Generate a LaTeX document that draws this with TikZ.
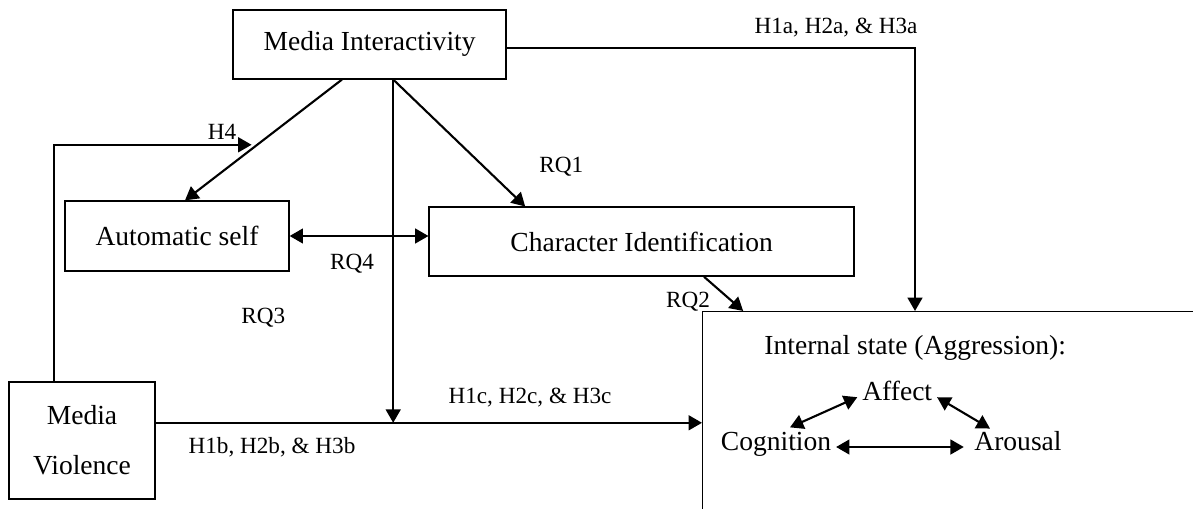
\documentclass[tikz,border=0pt]{standalone}
\usepackage{fontspec}
\setmainfont{Liberation Serif}
\usetikzlibrary{arrows.meta}

\tikzset{
	box/.style={draw, line width=0.9pt, inner sep=0pt, font=\fontsize{19.6}{23.5}\selectfont},
	txt/.style={font=\fontsize{19.6}{23.5}\selectfont, text height=0.7em, text depth=0.25em},
	lbl/.style={font=\fontsize{16.5}{19.8}\selectfont, inner sep=0pt},
	arr/.style={line width=1.5pt, -{Triangle[length=9.5pt,width=10.5pt]}},
	dbl/.style={line width=1.5pt, {Triangle[length=9.5pt,width=10.5pt]}-{Triangle[length=9.5pt,width=10.5pt]}},
}

\begin{document}
\begin{tikzpicture}
	\useasboundingbox (0,0) rectangle (29.825,-12.7);
	\clip (0,0) rectangle (29.825,-12.7);

	\node[box, minimum width=6.825cm, minimum height=1.725cm] (interactivity) at (9.24,-1.11) {Media Interactivity};
	\node[box, minimum width=5.6cm, minimum height=1.75cm] (autoself) at (4.425,-5.9) {Automatic self};
	\node[box, minimum width=10.625cm, minimum height=1.725cm] (identification) at (16.04,-6.04) {Character Identification};
	\node[box, minimum width=3.65cm, minimum height=2.925cm, align=center, font=\fontsize{19.6}{35.6}\selectfont] (violence) at (2.05,-11.01) {Media\\Violence};

	% the state box runs off the page on the right and at the bottom
	\node[box, anchor=north west, minimum width=14cm, minimum height=7cm] (state) at (17.55,-7.775) {};
	\node[txt] (statetitle) at (22.88,-8.78) {Internal state (Aggression):};
	\node[txt] (affect) at (22.43,-9.93) {Affect};
	\node[txt] (cognition) at (19.4,-11.175) {Cognition};
	\node[txt] (arousal) at (25.45,-11.175) {Arousal};

	\coordinate (split) at ([xshift=0.59cm]interactivity.south);
	\coordinate (vout) at ([yshift=0.44cm]violence.east);

	\draw[arr] ([xshift=-0.69cm]interactivity.south) -- coordinate[pos=0.54] (h4end) ([xshift=0.2cm]autoself.north);
	\draw[arr, shorten >=4pt] ([xshift=-0.7cm]violence.north) |- (h4end);
	\draw[arr] (split) -- ([xshift=-2.91cm]identification.north);
	\draw[arr] (split) -- (split |- vout);
	\draw[arr] (vout) -- (vout -| state.west);
	\draw[arr] ([yshift=-0.1cm]interactivity.east) -| ([xshift=5.325cm]state.north west);
	\draw[arr] ([xshift=1.56cm]identification.south) -- ([xshift=1.03cm]state.north west);
	\draw[dbl] (autoself.east) -- (autoself.east -| identification.west);

	\draw[dbl] ([shift={(0.35cm,0.2cm)}]cognition.north) -- (affect.west);
	\draw[dbl] (affect.east) -- ([shift={(-0.7cm,0.17cm)}]arousal.north);
	\draw[dbl, shorten >=4pt] (cognition.east) -- (arousal.west);

	\node[lbl] (h1a) at (20.9,-0.7) {H1a, H2a, \& H3a};
	\node[lbl] (h4) at (5.55,-3.3) {H4};
	\node[lbl] (rq1) at (14.03,-4.17) {RQ1};
	\node[lbl] (rq4) at (8.8,-6.58) {RQ4};
	\node[lbl] (rq3) at (6.58,-7.95) {RQ3};
	\node[lbl] (rq2) at (17.2,-7.55) {RQ2};
	\node[lbl] (h1c) at (13.25,-9.93) {H1c, H2c, \& H3c};
	\node[lbl] (h1b) at (6.8,-11.18) {H1b, H2b, \& H3b};
\end{tikzpicture}
\end{document}
